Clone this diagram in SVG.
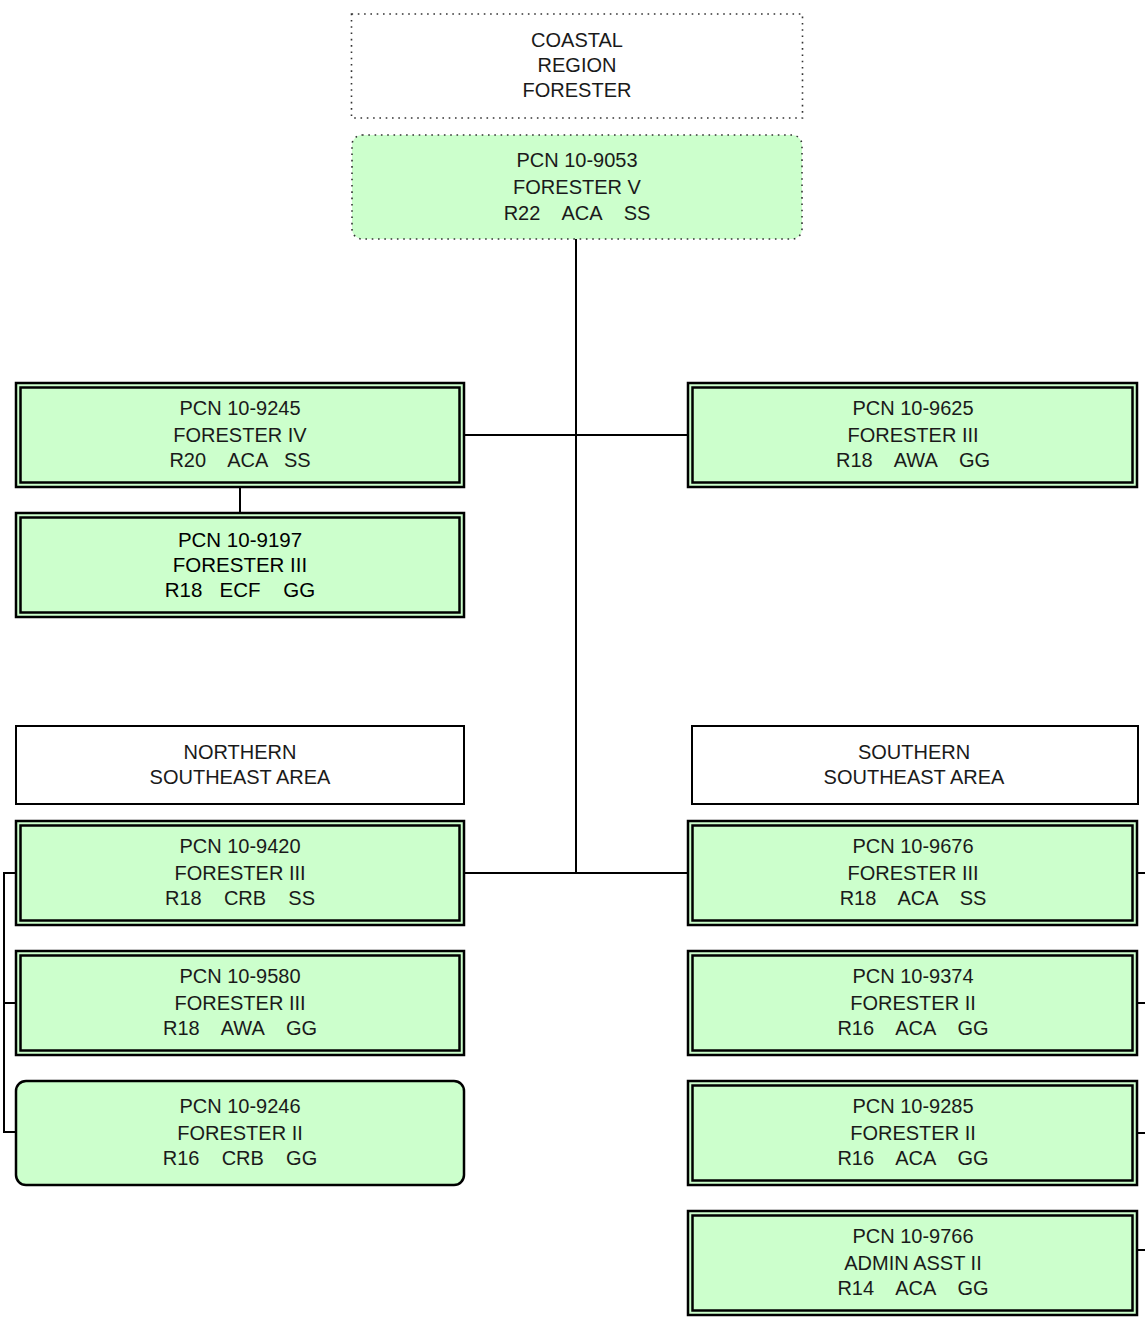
<svg xmlns="http://www.w3.org/2000/svg" width="1145" height="1322" viewBox="0 0 1145 1322">
<style>
.t{font-family:"Liberation Sans",Arial,sans-serif;font-size:20px;fill:#1a1a1a;text-anchor:middle;white-space:pre}
.a{font-family:"Liberation Sans",Arial,sans-serif;font-size:20.5px;fill:#000;text-anchor:middle;white-space:pre}
.o{fill:#ccffcc;stroke:#000;stroke-width:2.5}
.i{fill:none;stroke:#000;stroke-width:2.5}
.w{fill:#fff;stroke:#000;stroke-width:2}
.d{stroke:#333;stroke-width:1.6;stroke-dasharray:1.6 4.7}
.c{fill:none;stroke:#000;stroke-width:2}
</style>
<rect width="1145" height="1322" fill="#fff"/>
<g id="connectors">
<path class="c" d="M576 239V873"/>
<path class="c" d="M465 435H687"/>
<path class="c" d="M240 488V512"/>
<path class="c" d="M465 873H687"/>
<path class="c" d="M15 873H4V1132H15M4 1003H15"/>
<path class="c" d="M1138 873H1145M1138 1003H1145M1138 1133H1145M1138 1250H1145"/>
</g>
<g id="coastal">
<rect class="d" x="351.5" y="14" width="451" height="104" fill="#fff"/>
<text xml:space="preserve" class="t" x="577" y="47">COASTAL</text>
<text xml:space="preserve" class="t" x="577" y="72">REGION</text>
<text xml:space="preserve" class="t" x="577" y="97">FORESTER</text>
</g>
<g id="pcn9053">
<rect class="d" x="352" y="135" width="450" height="104" rx="10" fill="#ccffcc"/>
<text xml:space="preserve" class="t" x="577" y="167">PCN 10-9053</text>
<text xml:space="preserve" class="t" x="577" y="194">FORESTER V</text>
<text xml:space="preserve" class="t" x="577" y="220">R22    ACA    SS</text>
</g>
<g id="pcn9245">
<rect class="o" x="16" y="383" width="448" height="104"/>
<rect class="i" x="20.5" y="387.5" width="439" height="95"/>
<text xml:space="preserve" class="t" x="240" y="415">PCN 10-9245</text>
<text xml:space="preserve" class="t" x="240" y="442">FORESTER IV</text>
<text xml:space="preserve" class="t" x="240" y="467">R20    ACA   SS</text>
</g>
<g id="pcn9197">
<rect class="o" x="16" y="513" width="448" height="104"/>
<rect class="i" x="20.5" y="517.5" width="439" height="95"/>
<text xml:space="preserve" class="a" x="240" y="547">PCN 10-9197</text>
<text xml:space="preserve" class="a" x="240" y="572">FORESTER III</text>
<text xml:space="preserve" class="a" x="240" y="597">R18   ECF    GG</text>
</g>
<g id="pcn9625">
<rect class="o" x="688" y="383" width="449" height="104"/>
<rect class="i" x="692.5" y="387.5" width="440" height="95"/>
<text xml:space="preserve" class="t" x="913" y="415">PCN 10-9625</text>
<text xml:space="preserve" class="t" x="913" y="442">FORESTER III</text>
<text xml:space="preserve" class="t" x="913" y="467">R18    AWA    GG</text>
</g>
<g id="northern">
<rect class="w" x="16" y="726" width="448" height="78"/>
<text xml:space="preserve" class="t" x="240" y="759">NORTHERN</text>
<text xml:space="preserve" class="t" x="240" y="784">SOUTHEAST AREA</text>
</g>
<g id="southern">
<rect class="w" x="692" y="726" width="446" height="78"/>
<text xml:space="preserve" class="t" x="914" y="759">SOUTHERN</text>
<text xml:space="preserve" class="t" x="914" y="784">SOUTHEAST AREA</text>
</g>
<g id="pcn9420">
<rect class="o" x="16" y="821" width="448" height="104"/>
<rect class="i" x="20.5" y="825.5" width="439" height="95"/>
<text xml:space="preserve" class="t" x="240" y="853">PCN 10-9420</text>
<text xml:space="preserve" class="t" x="240" y="880">FORESTER III</text>
<text xml:space="preserve" class="t" x="240" y="905">R18    CRB    SS</text>
</g>
<g id="pcn9580">
<rect class="o" x="16" y="951" width="448" height="104"/>
<rect class="i" x="20.5" y="955.5" width="439" height="95"/>
<text xml:space="preserve" class="t" x="240" y="983">PCN 10-9580</text>
<text xml:space="preserve" class="t" x="240" y="1010">FORESTER III</text>
<text xml:space="preserve" class="t" x="240" y="1035">R18    AWA    GG</text>
</g>
<g id="pcn9246">
<rect class="o" x="16" y="1081" width="448" height="104" rx="10"/>
<text xml:space="preserve" class="t" x="240" y="1113">PCN 10-9246</text>
<text xml:space="preserve" class="t" x="240" y="1140">FORESTER II</text>
<text xml:space="preserve" class="t" x="240" y="1165">R16    CRB    GG</text>
</g>
<g id="pcn9676">
<rect class="o" x="688" y="821" width="449" height="104"/>
<rect class="i" x="692.5" y="825.5" width="440" height="95"/>
<text xml:space="preserve" class="t" x="913" y="853">PCN 10-9676</text>
<text xml:space="preserve" class="t" x="913" y="880">FORESTER III</text>
<text xml:space="preserve" class="t" x="913" y="905">R18    ACA    SS</text>
</g>
<g id="pcn9374">
<rect class="o" x="688" y="951" width="449" height="104"/>
<rect class="i" x="692.5" y="955.5" width="440" height="95"/>
<text xml:space="preserve" class="t" x="913" y="983">PCN 10-9374</text>
<text xml:space="preserve" class="t" x="913" y="1010">FORESTER II</text>
<text xml:space="preserve" class="t" x="913" y="1035">R16    ACA    GG</text>
</g>
<g id="pcn9285">
<rect class="o" x="688" y="1081" width="449" height="104"/>
<rect class="i" x="692.5" y="1085.5" width="440" height="95"/>
<text xml:space="preserve" class="t" x="913" y="1113">PCN 10-9285</text>
<text xml:space="preserve" class="t" x="913" y="1140">FORESTER II</text>
<text xml:space="preserve" class="t" x="913" y="1165">R16    ACA    GG</text>
</g>
<g id="pcn9766">
<rect class="o" x="688" y="1211" width="449" height="104"/>
<rect class="i" x="692.5" y="1215.5" width="440" height="95"/>
<text xml:space="preserve" class="t" x="913" y="1243">PCN 10-9766</text>
<text xml:space="preserve" class="t" x="913" y="1270">ADMIN ASST II</text>
<text xml:space="preserve" class="t" x="913" y="1295">R14    ACA    GG</text>
</g>
</svg>
